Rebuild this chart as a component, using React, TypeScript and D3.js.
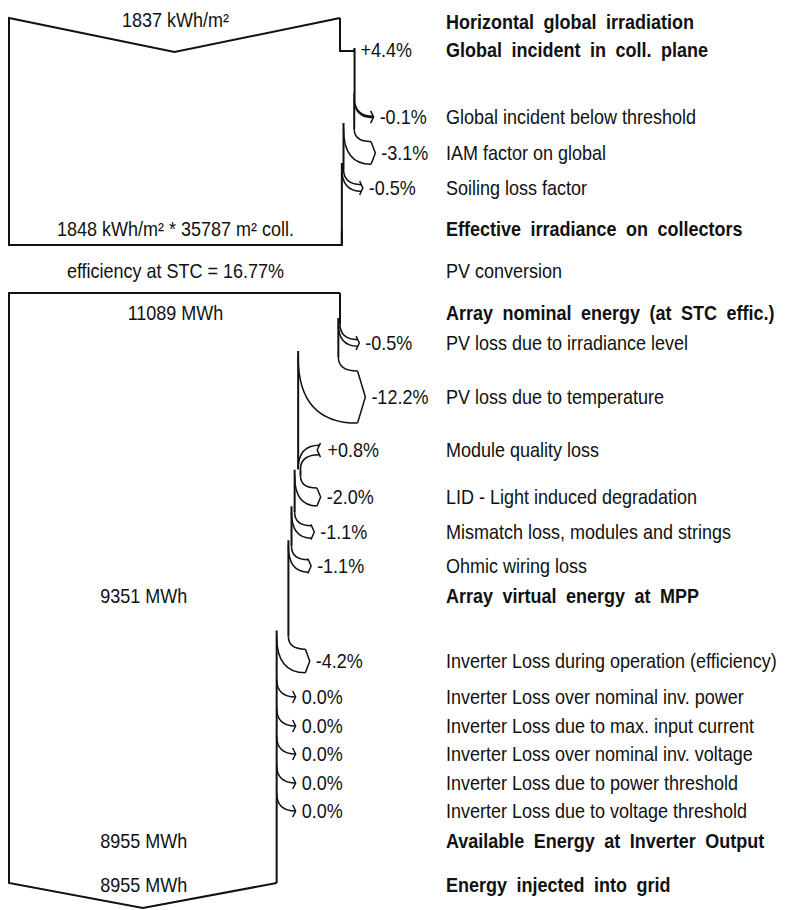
import * as d3 from 'd3';

// irradiance part (kWh/m²)
const horizontalGlobal = 1837;
const effectiveIrradiance = 1848;
const collectorArea = 35787;
const stcEfficiency = 16.77;
const irradianceSteps = [
  'Global incident in coll. plane',
  'Global incident below threshold',
  'IAM factor on global',
  'Soiling loss factor',
];
const irradiancePct = [4.4, -0.1, -3.1, -0.5];

// energy part (MWh)
const nominalEnergy = 11089;
const virtualEnergy = 9351;
const availableEnergy = 8955;
const injectedEnergy = 8955;
const energySteps = [
  'PV loss due to irradiance level',
  'PV loss due to temperature',
  'Module quality loss',
  'LID - Light induced degradation',
  'Mismatch loss, modules and strings',
  'Ohmic wiring loss',
  'Inverter Loss during operation (efficiency)',
  'Inverter Loss over nominal inv. power',
  'Inverter Loss due to max. input current',
  'Inverter Loss over nominal inv. voltage',
  'Inverter Loss due to power threshold',
  'Inverter Loss due to voltage threshold',
];
const energyPct = [-0.5, -12.2, 0.8, -2.0, -1.1, -1.1, -4.2, 0.0, 0.0, 0.0, 0.0, 0.0];

// layout
const W = 786, H = 910;
const LEFT = 9, RIGHT = 340;
const LABEL_X = 446;
const irradianceRows = [50, 117, 153, 188];
const energyRows = [343, 397, 450, 497, 532, 566, 661, 697, 726, 754, 783, 811];
const rowHoriz = 20, rowHorizLabel = 22, rowEffective = 229, rowConversion = 271, rowNominal = 313;
const rowVirtual = 596, rowAvailable = 841, rowInjected = 885;
const box1 = { top: 18, notch: 34, bottom: 245 };
const box2 = { top: 293, bottom: 883, notch: 25 };

type Step = { label: string; pct: number; ly: number; xb: number; xa: number };
type Arrow = { band: string; tip: string; tx: number; ly: number; pct: number };

function buildSteps(labels: string[], pcts: number[], rows: number[], x: d3.ScaleLinear<number, number>, start: number): Step[] {
  let v = start;
  return labels.map((label, i) => {
    const before = v;
    v = v * (1 + pcts[i] / 100);
    return { label, pct: pcts[i], ly: rows[i], xb: x(before), xa: x(v) };
  });
}

function buildFlow(st: Step[], topY: number, bottomY: number, notchFirst: boolean) {
  let edge = '';
  let y = topY;
  const arrows: Arrow[] = [];
  st.forEach((s, i) => {
    const w = Math.abs(s.xa - s.xb);
    if (i === 0 && notchFirst) {
      edge += `M${s.xb},${y}V${s.ly + 1}H${s.xa - 2}Q${s.xa},${s.ly + 1} ${s.xa},${s.ly - 2}`;
      y = s.ly - 2;
      arrows.push({ band: '', tip: '', tx: s.xa, ly: s.ly, pct: s.pct });
      return;
    }
    const hhTip = w * 0.5 + 6;
    const hhBand = w * 0.5 + 6 * Math.min(1, w / 4);
    const inset = 3 + w * 0.12;
    if (s.pct <= 0) {
      const y0 = s.ly - 18 - w * 0.55;
      edge += `M${s.xb},${y}V${y0}`;
      const tx = s.xb + 19 + w * 0.2;
      const ex = tx - inset * (hhBand / hhTip);
      const band = `M${s.xb},${y0}Q${s.xb},${s.ly - hhBand} ${ex},${s.ly - hhBand}` +
        `M${s.xa},${y0}Q${s.xa},${s.ly + hhBand} ${ex},${s.ly + hhBand}`;
      const tip = `M${tx - inset},${s.ly - hhTip}L${tx},${s.ly}L${tx - inset},${s.ly + hhTip}`;
      arrows.push({ band, tip, tx, ly: s.ly, pct: s.pct });
      y = y0 - 6;
    } else {
      const y0 = s.ly + 18 + w * 0.55;
      edge += `M${s.xb},${y}V${y0}`;
      const tx = s.xa + 20;
      const ex = tx - inset * (1 - hhBand / hhTip);
      const band = `M${s.xb},${y0}Q${s.xb},${s.ly - hhBand} ${ex},${s.ly - hhBand}` +
        `M${s.xa},${y0}Q${s.xa},${s.ly + hhBand} ${ex},${s.ly + hhBand}`;
      const tip = `M${tx},${s.ly - hhTip}L${tx - inset},${s.ly}L${tx},${s.ly + hhTip}`;
      arrows.push({ band, tip, tx: tx + 1, ly: s.ly, pct: s.pct });
      y = y0;
    }
  });
  const endX = st[st.length - 1].xa;
  edge += `M${endX},${y}V${bottomY}`;
  return { edge, arrows, endX };
}

const fmtPct = (p: number) => (p > 0 ? '+' : '') + p.toFixed(1) + '%';

const Label = ({ x, y, text, anchor = 'start', bold = false }:
  { x: number; y: number; text: string; anchor?: string; bold?: boolean }) => (
  <text
    transform={`translate(${x},${y + 7}) scale(0.9,1)`}
    textAnchor={anchor}
    fontWeight={bold ? 'bold' : 'normal'}
    wordSpacing={bold ? 5 : 0}
  >
    {text}
  </text>
);

export default function App() {
  const xIrr = d3.scaleLinear().domain([0, horizontalGlobal]).range([LEFT, RIGHT]);
  const xEn = d3.scaleLinear().domain([0, nominalEnergy]).range([LEFT, RIGHT]);

  const s1 = buildSteps(irradianceSteps, irradiancePct, irradianceRows, xIrr, horizontalGlobal);
  const s2 = buildSteps(energySteps, energyPct, energyRows, xEn, nominalEnergy);
  const f1 = buildFlow(s1, box1.top, box1.bottom, true);
  const f2 = buildFlow(s2, box2.top, box2.bottom, false);

  const mid1 = (LEFT + RIGHT) / 2;
  const mid2 = (LEFT + f2.endX) / 2;

  const box1Outline =
    `M${RIGHT},${box1.top}L${mid1},${box1.top + box1.notch}L${LEFT},${box1.top}` +
    `V${box1.bottom}H${f1.endX}V${box1.bottom - 14}`;
  const box2Outline =
    `M${RIGHT},${box2.top}H${LEFT}V${box2.bottom}L${mid2},${box2.bottom + box2.notch}L${f2.endX},${box2.bottom}`;

  const fmt = d3.format('d');

  return (
    <svg width={W} height={H} style={{ position: 'absolute', left: 0, top: 0, background: '#fff' }}
      fontFamily="'Liberation Sans', Arial, sans-serif" fontSize={20} fill="#111">
      <g fill="none" stroke="#111" strokeWidth={2} strokeLinejoin="miter">
        <path d={box1Outline} />
        <path d={f1.edge} />
        <path d={box2Outline} />
        <path d={f2.edge} />
      </g>
      <g fill="none" stroke="#111" strokeWidth={1.5}>
        {[...f1.arrows, ...f2.arrows].map((a, i) => (
          <g key={i}>
            <path d={a.band} />
            <path d={a.tip} />
          </g>
        ))}
      </g>
      {[...f1.arrows, ...f2.arrows].map((a, i) => (
        <Label key={i} x={a.tx + 6} y={a.ly} text={fmtPct(a.pct)} />
      ))}

      <Label x={mid1 + 1} y={rowHoriz} anchor="middle" text={`${fmt(horizontalGlobal)} kWh/m²`} />
      <Label x={mid1 + 1} y={rowEffective} anchor="middle"
        text={`${fmt(effectiveIrradiance)} kWh/m² * ${fmt(collectorArea)} m² coll.`} />
      <Label x={mid1 + 1} y={rowConversion} anchor="middle" text={`efficiency at STC = ${stcEfficiency.toFixed(2)}%`} />
      <Label x={mid1 + 1} y={rowNominal} anchor="middle" text={`${fmt(nominalEnergy)} MWh`} />
      <Label x={mid2 + 1} y={rowVirtual} anchor="middle" text={`${fmt(virtualEnergy)} MWh`} />
      <Label x={mid2 + 1} y={rowAvailable} anchor="middle" text={`${fmt(availableEnergy)} MWh`} />
      <Label x={mid2 + 1} y={rowInjected} anchor="middle" text={`${fmt(injectedEnergy)} MWh`} />

      <Label x={LABEL_X} y={rowHorizLabel} bold text="Horizontal global irradiation" />
      {s1.map((s, i) => <Label key={s.label} x={LABEL_X} y={s.ly} bold={i === 0} text={s.label} />)}
      <Label x={LABEL_X} y={rowEffective} bold text="Effective irradiance on collectors" />
      <Label x={LABEL_X} y={rowConversion} text="PV conversion" />
      <Label x={LABEL_X} y={rowNominal} bold text="Array nominal energy (at STC effic.)" />
      {s2.map((s) => <Label key={s.label} x={LABEL_X} y={s.ly} text={s.label} />)}
      <Label x={LABEL_X} y={rowVirtual} bold text="Array virtual energy at MPP" />
      <Label x={LABEL_X} y={rowAvailable} bold text="Available Energy at Inverter Output" />
      <Label x={LABEL_X} y={rowInjected} bold text="Energy injected into grid" />
    </svg>
  );
}
